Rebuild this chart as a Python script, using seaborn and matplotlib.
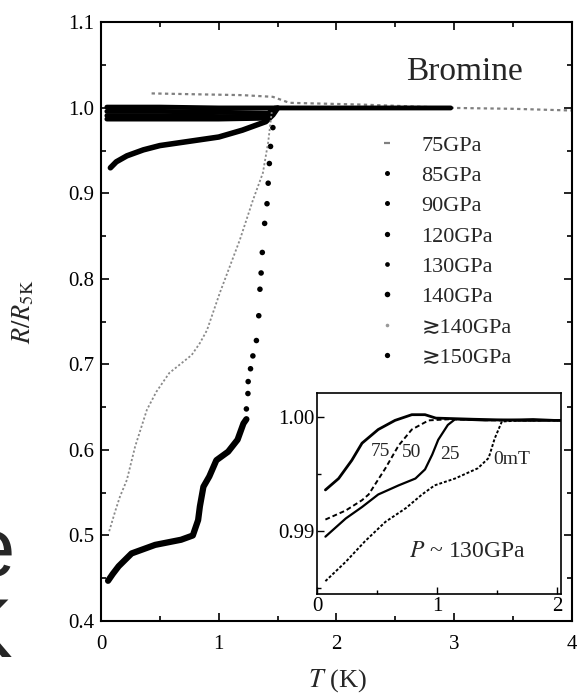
import numpy as np
import pandas as pd
import matplotlib
matplotlib.use("Agg")
import matplotlib.pyplot as plt
import seaborn as sns
from matplotlib.lines import Line2D
from matplotlib.ticker import MultipleLocator, FormatStrFormatter

sns.set_style("ticks")
plt.rcParams["font.family"] = ["Liberation Serif", "DejaVu Sans"]
plt.rcParams["mathtext.fontset"] = "stix"

# ── main panel data (T in K, R/R5K) ───────────────────────────
T_75 = [0.43, 0.8, 1.2, 1.46, 1.6, 2.2, 3.0, 3.5, 4.0]
R_75 = [1.017, 1.016, 1.015, 1.013, 1.006, 1.004, 1.000, 0.999, 0.997]

T_85 = [0.05, 0.5, 1.0, 1.4, 1.5, 2.0, 2.5, 2.97]
R_85 = [1.001, 1.001, 1.000, 1.000, 1.000, 1.000, 1.000, 1.000]
T_90 = [0.05, 0.5, 1.0, 1.42, 1.48]
R_90 = [0.996, 0.996, 0.995, 0.994, 1.000]
T_120 = [0.05, 0.5, 1.0, 1.42, 1.48]
R_120 = [0.991, 0.991, 0.990, 0.990, 0.999]
T_130 = [0.05, 0.5, 1.0, 1.40, 1.48]
R_130 = [0.987, 0.987, 0.987, 0.988, 0.999]

T_140 = [0.08, 0.13, 0.22, 0.36, 0.5, 0.75, 1.0, 1.2, 1.4, 1.46, 1.5]
R_140 = [0.930, 0.937, 0.944, 0.951, 0.956, 0.961, 0.966, 0.974, 0.984, 0.992, 1.000]

T_ge140 = [0.07, 0.12, 0.16, 0.22, 0.29, 0.39, 0.47, 0.58, 0.77, 0.84, 0.90,
           1.01, 1.18, 1.29, 1.375, 1.42, 1.45]
R_ge140 = [0.505, 0.528, 0.545, 0.565, 0.604, 0.647, 0.668, 0.690, 0.711, 0.725,
           0.740, 0.784, 0.846, 0.892, 0.924, 0.960, 0.995]

T_ge150 = [0.06, 0.10, 0.15, 0.26, 0.46, 0.68, 0.78, 0.825, 0.84, 0.87, 0.92,
           0.98, 1.08, 1.16, 1.21, 1.235]
R_ge150 = [0.447, 0.455, 0.464, 0.479, 0.489, 0.495, 0.500, 0.518, 0.534, 0.557,
           0.569, 0.588, 0.598, 0.612, 0.631, 0.636]
# sparse points of the sharp transition
T_ge150_dots = [1.235, 1.248, 1.25, 1.27, 1.29, 1.32, 1.34, 1.35, 1.36, 1.37,
                1.39, 1.41, 1.42, 1.43, 1.44, 1.46]
R_ge150_dots = [0.648, 0.666, 0.680, 0.695, 0.710, 0.728, 0.757, 0.788, 0.807,
                0.831, 0.865, 0.888, 0.912, 0.935, 0.955, 0.977]

LEGEND_LABELS = ["75GPa", "85GPa", "90GPa", "120GPa", "130GPa", "140GPa",
                 "\u2273140GPa", "\u2273150GPa"]

# ── inset data (P ~ 130GPa, field in mT) ─────────────────────
IT_0 = [0.07, 0.24, 0.40, 0.57, 0.74, 0.875, 0.98, 1.15, 1.34, 1.43, 1.48, 1.54, 1.7, 1.9, 2.03]
IR_0 = [0.9856, 0.9873, 0.9891, 0.9908, 0.9920, 0.9932, 0.9940, 0.9946, 0.9955,
        0.9964, 0.9981, 0.9996, 0.9997, 0.9997, 0.9997]
IT_25 = [0.07, 0.24, 0.375, 0.51, 0.68, 0.82, 0.90, 0.96, 1.01, 1.09, 1.15, 1.4, 1.8, 2.03]
IR_25 = [0.9895, 0.9911, 0.9921, 0.9932, 0.9940, 0.9946, 0.9954, 0.9967, 0.9980,
         0.9993, 0.9998, 0.9997, 0.9998, 0.9997]
IT_50 = [0.07, 0.24, 0.375, 0.43, 0.57, 0.68, 0.79, 0.93, 1.1, 1.5, 2.03]
IR_50 = [0.9910, 0.9918, 0.9927, 0.9932, 0.9955, 0.9975, 0.9989, 0.9997, 0.9998,
         0.9997, 0.9997]
IT_75 = [0.07, 0.18, 0.29, 0.375, 0.51, 0.65, 0.79, 0.90, 0.99, 1.3, 1.7, 2.03]
IR_75 = [0.9936, 0.9946, 0.9962, 0.9977, 0.9989, 0.9997, 1.0002, 1.0002, 0.9999,
         0.9998, 0.9997, 0.9997]
FIELD_LABELS = ["75", "50", "25", "0mT"]
FIELD_LABEL_POS = [(0.525, 0.99693), (0.79, 0.99684), (1.11, 0.99667), (1.62, 0.99623)]


def curve(ax, t, r, **kw):
    df = pd.DataFrame({"T": t, "R": r})
    sns.lineplot(data=df, x="T", y="R", ax=ax, sort=False, estimator=None,
                 legend=False, **kw)


fig = plt.figure(figsize=(5.77, 6.95), dpi=100)
ax = fig.add_axes([0.175, 0.1065, 0.8163, 0.8612])

curve(ax, T_75, R_75, color="#808080", linewidth=1.6, linestyle=(0, (1.5, 1.5)))
curve(ax, T_85, R_85, color="black", linewidth=3.5)
curve(ax, T_90, R_90, color="black", linewidth=3.5)
curve(ax, T_120, R_120, color="black", linewidth=3.5)
curve(ax, T_130, R_130, color="black", linewidth=3.5)
curve(ax, T_140, R_140, color="black", linewidth=4.0)
curve(ax, T_ge140, R_ge140, color="#8a8a8a", linewidth=1.3, linestyle=(0, (1.2, 1.2)))
curve(ax, T_ge150, R_ge150, color="black", linewidth=4.5)
sns.scatterplot(x=T_ge150_dots, y=R_ge150_dots, ax=ax, color="black", s=16,
                edgecolor="none", legend=False)

ax.set_xlim(0, 4)
ax.set_ylim(0.4, 1.1)
ax.xaxis.set_major_locator(MultipleLocator(1))
ax.xaxis.set_minor_locator(MultipleLocator(0.5))
ax.yaxis.set_major_locator(MultipleLocator(0.1))
ax.yaxis.set_minor_locator(MultipleLocator(0.05))
ax.yaxis.set_major_formatter(FormatStrFormatter("%.1f"))
ax.tick_params(which="both", direction="in", top=True, right=True, width=1.2,
               labelsize=15, colors="black")
ax.tick_params(which="major", length=6)
ax.tick_params(which="minor", length=3.5)
ax.tick_params(axis="x", pad=10)
ax.tick_params(axis="y", pad=5)
for s in ax.spines.values():
    s.set_linewidth(1.5)
    s.set_color("black")
ax.set_xlabel("")
ax.set_ylabel("")

fig.text(23 / 577, 1 - 312 / 695, r"$R/R_{\rm 5K}$", rotation=90, ha="center",
         va="center", fontsize=19)
fig.text(337 / 577, 1 - 681 / 695, r"$T$ (K)", ha="center", va="center", fontsize=19)

ax.text(3.085, 1.0327, "Bromine", ha="center", va="baseline", fontsize=24)

handles = [
    Line2D([], [], ls="", marker="_", color="#808080", markersize=5, mew=1.6),
    Line2D([], [], ls="", marker="o", color="black", markersize=3.6, mec="none"),
    Line2D([], [], ls="", marker="o", color="black", markersize=3.6, mec="none"),
    Line2D([], [], ls="", marker="o", color="black", markersize=3.8, mec="none"),
    Line2D([], [], ls="", marker="o", color="black", markersize=3.4, mec="none"),
    Line2D([], [], ls="", marker="o", color="black", markersize=4.0, mec="none"),
    Line2D([], [], ls="", marker="o", color="#999999", markersize=2.6, mec="none"),
    Line2D([], [], ls="", marker="o", color="black", markersize=3.8, mec="none"),
]
ax.legend(handles, LEGEND_LABELS, loc="upper left", bbox_to_anchor=(0.588, 0.812),
          frameon=False, fontsize=16, handlelength=0.8, handletextpad=1.15,
          labelspacing=0.44, borderpad=0, borderaxespad=0)

# ── inset ─────────────────────────────────────────────────────
ins = fig.add_axes([0.5494, 0.1453, 0.4229, 0.2892])
ins.set_facecolor("white")
curve(ins, IT_0, IR_0, color="black", linewidth=1.4, linestyle=(0, (1.5, 1)))
curve(ins, IT_25, IR_25, color="black", linewidth=1.6)
curve(ins, IT_50, IR_50, color="black", linewidth=1.4, linestyle=(0, (2.5, 1.5)))
curve(ins, IT_75, IR_75, color="black", linewidth=2.0)
for lab, (x, y) in zip(FIELD_LABELS, FIELD_LABEL_POS):
    ins.text(x, y, lab, ha="center", va="center", fontsize=14)
ins.text(1.25, 0.98816, r"$P$ ~ 130GPa", ha="center", va="center", fontsize=17)

ins.set_xlim(0, 2.033)
ins.set_ylim(0.98447, 1.0021)
ins.set_xticks([0, 1, 2])
ins.set_xticklabels(["0", "1", "2"])
ins.set_yticks([0.99, 1.00])
ins.set_yticklabels(["0.99", "1.00"])
ins.xaxis.set_minor_locator(MultipleLocator(0.5))
ins.yaxis.set_minor_locator(MultipleLocator(0.005))
ins.tick_params(which="both", direction="in", width=1.0, labelsize=15, pad=2,
                colors="black")
ins.tick_params(which="major", length=5)
ins.tick_params(which="minor", length=3)
for s in ins.spines.values():
    s.set_linewidth(1.2)
    s.set_color("black")
ins.set_xlabel("")
ins.set_ylabel("")

# cropped fragments of large letters at the left edge (cut off in the original too)
fig.text(15 / 577, 1 - 576 / 695, "e", ha="right", va="baseline", fontsize=60,
         family="Liberation Sans")
fig.text(12 / 577, 1 - 657 / 695, "K", ha="right", va="baseline", fontsize=60,
         family="Liberation Sans")

fig.savefig("out.png", dpi=100)
